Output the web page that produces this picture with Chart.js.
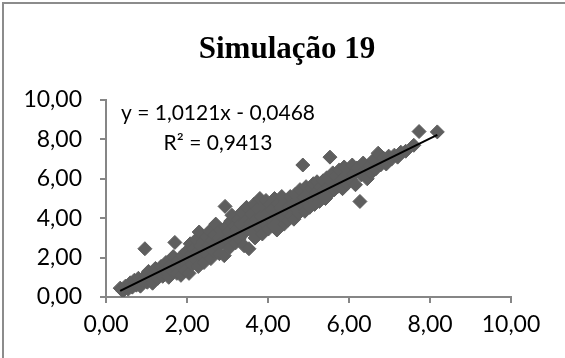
<!DOCTYPE html>
<html>
<head>
<meta charset="utf-8">
<script src="https://cdn.jsdelivr.net/npm/chart.js@4/dist/chart.umd.min.js"></script>
<style>
  html, body { margin: 0; padding: 0; background: #ffffff; }
  #wrap { position: relative; width: 565px; height: 358px; overflow: hidden; background: #ffffff; }
  #frame { position: absolute; left: 2px; top: 2px; width: 620px; height: 420px;
           border-left: 2px solid #8c8c8c; border-top: 2px solid #8c8c8c; }
  #c { position: absolute; left: 0; top: 0; }
</style>
</head>
<body>
<div id="wrap">
  <div id="frame"></div>
  <canvas id="c" width="565" height="358"></canvas>
</div>
<script>
// Simulated vs. observed values for run 19
const chartTitle = 'Simulação 19';

const xValues = [
  0.35, 0.42, 0.48, 0.55, 0.60, 0.65, 0.70, 0.75, 0.80, 0.85, 0.90, 0.96, 0.98, 1.02, 1.05, 1.10, 1.15, 1.18, 1.22, 1.28,
  1.32, 1.36, 1.40, 1.45, 1.48, 1.52, 1.55, 1.58, 1.62, 1.66, 1.70, 1.72, 1.75, 1.78, 1.82, 1.85, 1.88, 1.92, 1.95, 1.98,
  2.02, 2.05, 2.08, 2.10, 2.13, 2.16, 2.19, 2.22, 2.25, 2.28, 2.30, 2.33, 2.36, 2.39, 2.42, 2.45, 2.48, 2.50,
  2.53, 2.56, 2.59, 2.62, 2.65, 2.68, 2.71, 2.74, 2.77, 2.80, 2.83, 2.86, 2.89, 2.92, 2.94, 2.96, 2.99,
  3.02, 3.05, 3.08, 3.11, 3.14, 3.17, 3.20, 3.23, 3.26, 3.29, 3.32, 3.35, 3.38, 3.41, 3.44, 3.47, 3.50,
  3.53, 3.56, 3.59, 3.62, 3.65, 3.68, 3.71, 3.74, 3.77, 3.80, 3.83, 3.86, 3.89, 3.92, 3.95, 3.98,
  4.01, 4.04, 4.07, 4.10, 4.13, 4.16, 4.19, 4.22, 4.25, 4.28, 4.31, 4.34, 4.37, 4.40, 4.43, 4.46, 4.49,
  4.52, 4.55, 4.58, 4.61, 4.64, 4.67, 4.70, 4.73, 4.76, 4.79, 4.82, 4.86, 4.88, 4.91, 4.94, 4.97, 5.00,
  5.03, 5.06, 5.09, 5.12, 5.15, 5.18, 5.21, 5.24, 5.27, 5.30, 5.33, 5.36, 5.39, 5.42, 5.45, 5.48, 5.53,
  5.52, 5.56, 5.60, 5.64, 5.68, 5.72, 5.76, 5.80, 5.84, 5.88, 5.92, 5.96, 6.00,
  6.04, 6.08, 6.12, 6.16, 6.20, 6.27, 6.30, 6.35, 6.40, 6.45, 6.50,
  6.55, 6.60, 6.66, 6.72, 6.78, 6.85, 6.92, 6.98,
  7.05, 7.12, 7.20, 7.28, 7.40, 7.60, 7.73, 8.18
];

const yValues = [
  0.45, 0.30, 0.55, 0.40, 0.72, 0.50, 0.85, 0.60, 0.95, 0.55, 0.80, 2.45, 1.10, 0.75, 1.30, 0.95, 0.70, 1.20, 1.45, 0.95,
  1.30, 1.55, 1.05, 1.40, 1.75, 1.20, 1.00, 1.60, 1.35, 2.05, 2.77, 1.50, 1.20, 1.85, 1.60, 1.10, 2.10, 1.75, 1.35, 2.30,
  1.95, 1.20, 2.70, 2.15, 1.65, 2.45, 1.90, 2.90, 2.25, 1.55, 3.30, 2.60, 2.05, 2.80, 1.75, 2.40, 3.05, 2.15,
  2.65, 3.35, 1.95, 2.85, 2.35, 3.15, 3.70, 2.55, 3.00, 2.20, 3.40, 2.75, 3.20, 2.10, 4.60, 3.55, 2.90,
  3.30, 2.50, 3.85, 4.15, 3.05, 3.60, 2.75, 3.40, 3.95, 2.95, 3.70, 4.30, 3.20, 2.60, 3.85, 4.55, 3.45,
  2.45, 3.75, 4.20, 3.30, 4.70, 3.00, 3.95, 4.45, 3.55, 5.00, 4.10, 3.20, 4.60, 3.75, 4.90, 4.25,
  3.45, 4.70, 3.95, 4.45, 3.60, 5.00, 4.20, 3.40, 4.75, 3.95, 4.50, 5.10, 4.05, 3.70, 4.85, 4.30, 3.90,
  4.60, 5.10, 4.10, 4.75, 3.95, 5.20, 4.45, 4.90, 4.25, 5.45, 4.70, 6.70, 5.05, 4.35, 5.60, 4.80, 5.25,
  4.55, 5.50, 4.95, 5.75, 4.70, 5.30, 5.85, 5.05, 4.85, 5.60, 5.20, 5.90, 5.40, 5.00, 6.05, 5.55, 7.10,
  5.25, 5.85, 6.30, 5.45, 6.10, 5.60, 6.45, 5.90, 5.50, 6.60, 6.15, 5.75, 6.40,
  5.95, 6.70, 6.25, 5.70, 6.55, 4.85, 6.20, 6.80, 6.35, 6.00, 6.65,
  6.30, 6.95, 6.50, 7.30, 6.70, 7.05, 6.75, 7.15,
  7.00, 7.20, 7.10, 7.35, 7.40, 7.70, 8.40, 8.38
];

// Axis ticks and the fitted linear trend
const tickValues = [0, 2, 4, 6, 8, 10];
const trendSlope = 1.0121;
const trendIntercept = -0.0468;
const trendR2 = 0.9413;

const fmt = (v, d) => v.toFixed(d).replace('.', ',');

const points = xValues.map((x, i) => ({ x: x, y: yValues[i] }));
const xMin = Math.min(...xValues);
const xMax = Math.max(...xValues);
const trendPoints = [xMin, xMax].map(x => ({ x: x, y: trendSlope * x + trendIntercept }));

const eqLine1 = 'y = ' + fmt(trendSlope, 4) + 'x ' + (trendIntercept < 0 ? '- ' : '+ ') + fmt(Math.abs(trendIntercept), 4);
const eqLine2 = 'R\u00B2 = ' + fmt(trendR2, 4);

const TICK_FONT = { family: 'Lato', size: 23 };
const AXIS_GRAY = '#868686';

// Title and trendline equation, drawn on the canvas
const textPlugin = {
  id: 'chartTexts',
  afterDraw(chart) {
    const ctx = chart.ctx;
    ctx.save();
    ctx.fillStyle = '#000000';
    ctx.textAlign = 'center';
    ctx.textBaseline = 'alphabetic';
    ctx.font = 'bold 31px "Liberation Serif"';
    ctx.fillText(chartTitle, 287, 58);
    ctx.font = '21px Lato';
    ctx.fillText(eqLine1, 218, 120);
    ctx.fillText(eqLine2, 218, 149.5);
    ctx.restore();
  }
};

function axisOptions(afterFit, pad) {
  return {
    type: 'linear',
    min: tickValues[0],
    max: tickValues[tickValues.length - 1],
    afterBuildTicks(scale) { scale.ticks = tickValues.map(v => ({ value: v })); },
    ticks: {
      color: '#000000',
      font: TICK_FONT,
      padding: pad,
      callback: v => fmt(v, 2)
    },
    grid: {
      drawOnChartArea: false,
      drawTicks: true,
      tickLength: 6,
      color: AXIS_GRAY,
      lineWidth: 2
    },
    border: { display: true, color: AXIS_GRAY, width: 2 },
    afterFit: afterFit
  };
}

new Chart(document.getElementById('c'), {
  type: 'scatter',
  data: {
    datasets: [
      {
        type: 'line',
        label: 'Linear',
        data: trendPoints,
        borderColor: '#000000',
        borderWidth: 2,
        pointRadius: 0,
        fill: false,
        order: 0
      },
      {
        label: chartTitle,
        data: points,
        pointStyle: 'rectRot',
        pointRadius: 7,
        pointBorderWidth: 1,
        backgroundColor: '#5e5e5e',
        borderColor: '#5e5e5e',
        order: 1
      }
    ]
  },
  options: {
    responsive: false,
    animation: false,
    layout: { padding: { top: 100, right: 54, bottom: 0, left: 0 } },
    plugins: {
      legend: { display: false },
      title: { display: false },
      tooltip: { enabled: false }
    },
    scales: {
      x: axisOptions(s => { s.height = 61; }, 8),
      y: axisOptions(s => { s.width = 106; }, 18)
    }
  },
  plugins: [textPlugin]
});
</script>
</body>
</html>
